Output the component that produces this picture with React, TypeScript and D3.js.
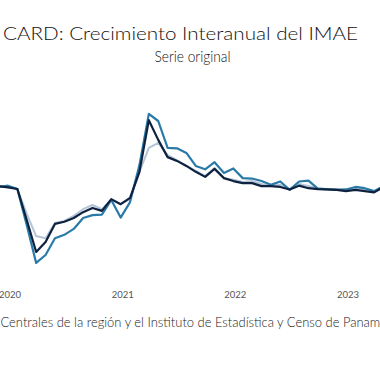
import React from "react";
import * as d3 from "d3";

// Months from Dec 2019 (index -1) to May 2023 (index 40); index 0 = Jan 2020
const startMonth = -1;
const yearTicks = [0, 12, 24, 36];
const yearLabels = ["2020", "2021", "2022", "2023"];

// Dark series (navy)
const seriesDark = [
  4.5, 4.2, 3.8, -3.6, -11.2, -8.8, -4.5, -4.0, -3.1, -1.7, -0.7, -1.4, 1.4,
  0.2, 1.7, 7.9, 20.2, 15.5, 11.4, 10.5, 9.3, 7.9, 6.7, 8.6, 6.4,
  5.7, 5.2, 5.2, 4.5, 4.5, 4.3, 3.7, 4.6, 4.0, 3.8, 3.7, 3.6,
  3.3, 3.6, 3.3, 3.0, 4.3,
];
// Mid blue series
const seriesMid = [
  4.3, 4.6, 3.8, -4.8, -13.8, -11.9, -7.9, -7.1, -5.7, -3.1, -2.4, -2.3, 1.2,
  -3.0, 0.7, 9.5, 21.7, 20.0, 13.6, 13.5, 12.4, 9.3, 8.5, 10.2, 7.6,
  8.7, 6.4, 6.3, 5.7, 4.8, 5.6, 3.6, 5.6, 5.8, 3.9, 3.7, 3.6,
  3.7, 4.3, 4.0, 3.3, 4.5,
];
// Light series
const seriesLight = [
  4.5, 4.3, 3.8, -2.1, -7.4, -7.9, -4.3, -3.8, -2.6, -1.0, 0.0, -1.0, 1.2,
  0.2, 1.4, 7.9, 13.6, 14.8, 11.9, 10.7, 9.3, 8.1, 6.9, 8.8, 6.4,
  6.0, 5.5, 5.7, 5.0, 4.5, 4.8, 3.8, 5.0, 4.5, 4.0, 3.8, 3.8,
  3.6, 4.0, 3.8, 3.3, 4.5,
];

const W = 380;
const H = 376;

export default function App() {
  const x = d3.scaleLinear().domain([0, 36]).range([8, 346]);
  const y = d3.scaleLinear().domain([-20, 30]).range([289, 79]);

  const line = d3
    .line<number>()
    .x((_, i) => x(startMonth + i))
    .y((d) => y(d))
    .curve(d3.curveLinear);

  const font = "'Lato', 'Open Sans', sans-serif";

  return (
    <svg
      width={W}
      height={H}
      style={{ position: "absolute", left: 0, top: 0, background: "#fff" }}
    >
      <rect x={0} y={0} width={W} height={H} fill="#fff" />
      <text
        x={180.5}
        y={40}
        textAnchor="middle"
        fontFamily={font}
        fontSize={18}
        fontWeight={300}
        fill="#111"
        textLength={355}
        lengthAdjust="spacingAndGlyphs"
      >
        CARD: Crecimiento Interanual del IMAE
      </text>
      <text
        x={192.5}
        y={62}
        textAnchor="middle"
        fontFamily={font}
        fontSize={16}
        fontWeight={300}
        fill="#111"
        textLength={76}
        lengthAdjust="spacingAndGlyphs"
      >
        Serie original
      </text>

      <g fill="none" strokeLinejoin="round" strokeLinecap="round">
        <path d={line(seriesLight) || ""} stroke="#b4c5d7" strokeWidth={2} />
        <path d={line(seriesMid) || ""} stroke="#2a7aa8" strokeWidth={2.2} />
        <path d={line(seriesDark) || ""} stroke="#0e2240" strokeWidth={2.2} />
      </g>

      {yearTicks.map((t, i) => (
        <text
          key={t}
          x={x(t) + 2}
          y={298}
          textAnchor="middle"
          fontFamily={font}
          fontSize={9.5}
          fill="#555"
        >
          {yearLabels[i]}
        </text>
      ))}

      <text
        x={0.5}
        y={327}
        textAnchor="start"
        fontFamily={font}
        fontSize={13}
        fontWeight={300}
        fill="#222"
        textLength={386}
        lengthAdjust="spacingAndGlyphs"
      >
        Centrales de la región y el Instituto de Estadística y Censo de Panamá
      </text>
    </svg>
  );
}
